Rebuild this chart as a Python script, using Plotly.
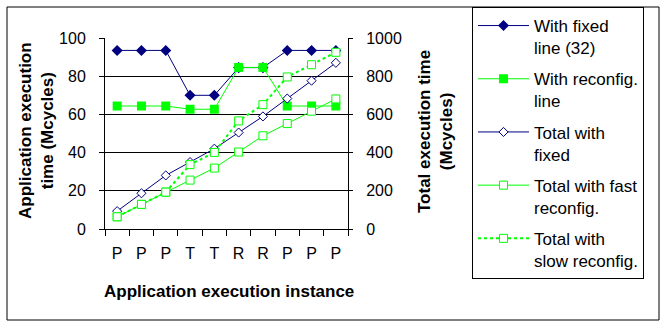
import plotly.graph_objects as go

categories = ["P", "P", "P", "T", "T", "R", "R", "P", "P", "P"]
with_fixed = [93.5, 93.5, 93.5, 70, 70, 84.5, 84.5, 93.5, 93.5, 93.5]
with_reconfig = [64.4, 64.4, 64.4, 62.7, 62.7, 84.6, 84.6, 64.4, 64.4, 64.4]
total_fixed = [93.5, 187, 280.5, 350.5, 420.5, 505, 589.5, 683, 776.5, 870]
total_fast = [64, 129, 193, 256, 319, 403, 488, 552, 617, 681]
total_slow = [64, 129, 193, 337, 401, 566, 651, 796, 860, 925]
left_ticks = [0, 20, 40, 60, 80, 100]
right_ticks = [0, 200, 400, 600, 800, 1000]

x = list(range(len(categories)))
NAVY = "#000080"
GREEN = "#00FF00"
FONT = "Liberation Sans, Arial, sans-serif"

fig = go.Figure()
fig.add_trace(go.Scatter(x=x, y=with_fixed, name="With fixed<br>line (32)", legendgroup="a",
                         mode="lines+markers", line=dict(color=NAVY, width=1),
                         marker=dict(symbol="diamond", size=8.5, color=NAVY)))
fig.add_trace(go.Scatter(x=x, y=with_reconfig, name="With reconfig.<br>line", legendgroup="b",
                         mode="lines+markers", line=dict(color=GREEN, width=1),
                         marker=dict(symbol="square", size=9, color=GREEN)))
fig.add_trace(go.Scatter(x=x, y=total_fixed, name="Total with<br>fixed", legendgroup="c", yaxis="y2",
                         mode="lines+markers", line=dict(color=NAVY, width=1),
                         marker=dict(symbol="diamond", size=7, color="white", line=dict(color=NAVY, width=1))))
fig.add_trace(go.Scatter(x=x, y=total_fast, name="Total with fast<br>reconfig.", legendgroup="d", yaxis="y2",
                         mode="lines+markers", line=dict(color=GREEN, width=1),
                         marker=dict(symbol="square", size=8, color="white", line=dict(color=GREEN, width=1))))
fig.add_trace(go.Scatter(x=x, y=total_slow, name="Total with<br>slow reconfig.", legendgroup="e", yaxis="y2",
                         mode="lines+markers", line=dict(color=GREEN, width=2, dash="dot"),
                         marker=dict(symbol="square", size=8, color="white", line=dict(color=GREEN, width=1))))

W, H = 669, 328
L, R, T, B = 105, 321, 38, 99
pw, ph = W - L - R, H - T - B

def px(xp):
    return (xp - L) / pw

def py(yp):
    return (H - B - yp) / ph

fig.update_layout(
    width=W, height=H, margin=dict(l=L, r=R, t=T, b=B, autoexpand=False),
    paper_bgcolor="white", plot_bgcolor="white",
    font=dict(family=FONT, size=16, color="black"),
    showlegend=True,
    legend=dict(xref="container", yref="container", x=472 / W, y=1 - 7 / H, xanchor="left", yanchor="top",
                bordercolor="black", borderwidth=1, bgcolor="white", maxheight=320,
                font=dict(family=FONT, size=17, color="black"),
                itemwidth=51, tracegroupgap=6, valign="top", traceorder="grouped"),
    xaxis=dict(range=[-0.5, len(categories) - 0.5], tickmode="array", tickvals=x, ticktext=categories,
               ticks="", showline=True, linecolor="black", linewidth=1, showgrid=False, zeroline=False,
               ticklabelstandoff=10,
               minor=dict(tickmode="array", tickvals=[i - 0.5 for i in range(len(categories) + 1)],
                          ticks="outside", ticklen=6, tickcolor="black", showgrid=False)),
    yaxis=dict(range=[0, 100], tickmode="array", tickvals=left_ticks, showline=True, linecolor="black",
               showgrid=True, gridcolor="black", gridwidth=1, zeroline=False,
               ticks="outside", ticklen=5, tickcolor="black", ticklabelstandoff=10),
    yaxis2=dict(range=[0, 1000], tickmode="array", tickvals=right_ticks, overlaying="y", side="right",
                showline=True, linecolor="black", showgrid=False, zeroline=False,
                ticks="outside", ticklen=4, tickcolor="black", ticklabelstandoff=10),
    annotations=[
        dict(text="<b>Application execution<br>time (Mcycles)</b>", xref="paper", yref="paper",
             x=px(36), y=py(131), textangle=-90, showarrow=False, xanchor="center", yanchor="middle",
             font=dict(family=FONT, size=17, color="black")),
        dict(text="<b>Total execution time<br>(Mcycles)</b>", xref="paper", yref="paper",
             x=px(435), y=py(132), textangle=-90, showarrow=False, xanchor="center", yanchor="middle",
             font=dict(family=FONT, size=17, color="black")),
        dict(text="<b>Application execution instance</b>", xref="paper", yref="paper",
             x=px(229), y=py(291), showarrow=False, xanchor="center", yanchor="middle",
             font=dict(family=FONT, size=17, color="black")),
    ],
    shapes=[dict(type="rect", xref="paper", yref="paper", x0=px(7), x1=px(659), y0=py(320), y1=py(7),
                 line=dict(color="black", width=1), fillcolor="rgba(0,0,0,0)", layer="below")],
)

fig.write_html("out.html")
